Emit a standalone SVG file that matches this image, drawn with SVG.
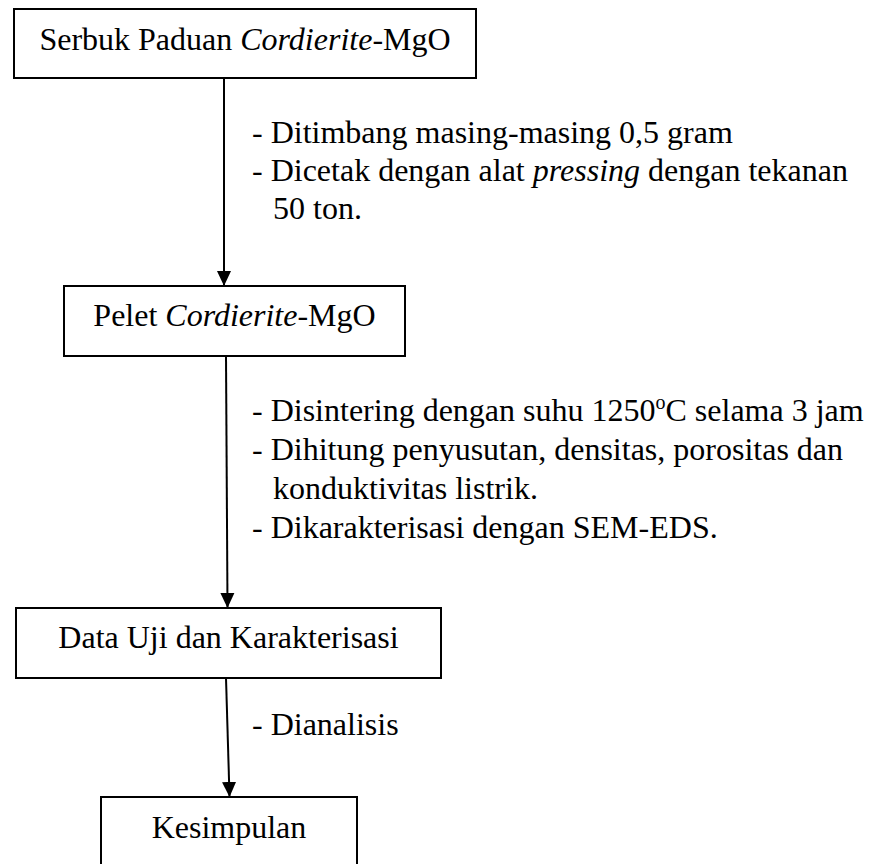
<svg xmlns="http://www.w3.org/2000/svg" width="875" height="864" viewBox="0 0 875 864">
<defs>
<style>
.box{fill:#fff;stroke:#000;stroke-width:2}
text{font-family:"Liberation Serif","Times New Roman",serif;font-size:32px;fill:#000}
.c{text-anchor:middle}
.line{stroke:#000;stroke-width:2;fill:none}
</style>
<marker id="ah" markerWidth="15" markerHeight="16" refX="15" refY="7.5" orient="auto" markerUnits="userSpaceOnUse" viewBox="0 0 16 15">
<path d="M0,0 L16,7.5 L0,15 Z" fill="#000"/>
</marker>
</defs>
<rect width="875" height="864" fill="#fff"/>
<g id="connectors">
<line class="line" x1="224" y1="78" x2="224" y2="285" marker-end="url(#ah)"/>
<line class="line" x1="226" y1="356" x2="227.5" y2="607" marker-end="url(#ah)"/>
<line class="line" x1="226" y1="678" x2="229.5" y2="796" marker-end="url(#ah)"/>
</g>
<g id="node-serbuk">
<rect class="box" x="14" y="9" width="462" height="69"/>
<text class="c" x="245" y="50" font-family="Liberation Serif, serif">Serbuk Paduan <tspan font-style="italic">Cordierite</tspan>-MgO</text>
</g>
<g id="node-pelet">
<rect class="box" x="64" y="286" width="341" height="70"/>
<text class="c" x="234.5" y="326" font-family="Liberation Serif, serif">Pelet <tspan font-style="italic">Cordierite</tspan>-MgO</text>
</g>
<g id="node-data">
<rect class="box" x="16" y="608" width="425" height="70"/>
<text class="c" x="228.5" y="648" font-family="Liberation Serif, serif">Data Uji dan Karakterisasi</text>
</g>
<g id="node-kesimpulan">
<rect class="box" x="101" y="797" width="256" height="90"/>
<text class="c" x="229" y="838" font-family="Liberation Serif, serif">Kesimpulan</text>
</g>
<g id="labels" font-family="Liberation Serif, serif">
<text x="252" y="143" font-family="Liberation Serif, serif">- Ditimbang masing-masing 0,5 gram</text>
<text x="252" y="181" font-family="Liberation Serif, serif">- Dicetak dengan alat <tspan font-style="italic">pressing</tspan> dengan tekanan</text>
<text x="273" y="219" font-family="Liberation Serif, serif">50 ton.</text>
<text x="252" y="421" font-family="Liberation Serif, serif">- Disintering dengan suhu 1250<tspan font-size="20" dy="-12">o</tspan><tspan dy="12">C selama 3 jam</tspan></text>
<text x="252" y="460" font-family="Liberation Serif, serif">- Dihitung penyusutan, densitas, porositas dan</text>
<text x="273" y="499" font-family="Liberation Serif, serif">konduktivitas listrik.</text>
<text x="252" y="538" font-family="Liberation Serif, serif">- Dikarakterisasi dengan SEM-EDS.</text>
<text x="252" y="735" font-family="Liberation Serif, serif">- Dianalisis</text>
</g>
</svg>
